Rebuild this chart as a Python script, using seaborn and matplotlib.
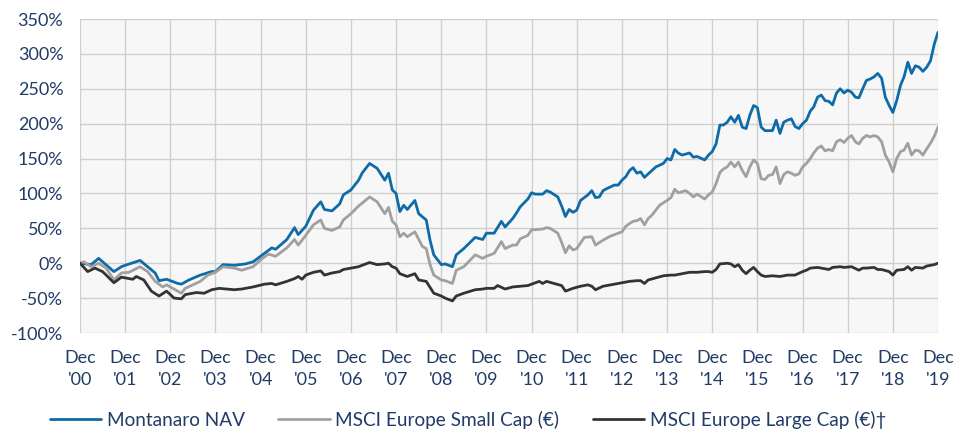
import numpy as np
import pandas as pd
import matplotlib
matplotlib.use("Agg")
import matplotlib.pyplot as plt
import seaborn as sns
from matplotlib.lines import Line2D

# ---------------- data (months since Dec 2000, cumulative return %) ----------------
nav_months = [0, 3, 5, 9, 11, 12, 16, 20, 21, 23, 26, 27, 29, 32, 35, 36, 38, 41, 44, 46,
              48, 51, 52, 55, 57, 58, 60, 62, 64, 65, 67, 69, 70, 72, 74, 75, 77, 79, 81, 82,
              83, 84, 85, 86, 87, 89, 90, 92, 93, 94, 96, 97, 99, 100, 102, 105, 107, 108, 110, 112,
              113, 115, 116, 117, 119, 120, 121, 123, 124, 125, 127, 128, 129, 130, 131, 132, 133, 135, 136, 137,
              138, 139, 140, 142, 143, 144, 145, 146, 147, 148, 149, 150, 151, 153, 155, 156, 157, 158, 159, 160,
              162, 163, 164, 166, 167, 168, 169, 170, 171, 172, 173, 174, 175, 176, 177, 178, 179, 180, 181, 182,
              183, 184, 185, 186, 187, 188, 189, 190, 191, 192, 193, 194, 195, 196, 197, 198, 199, 200, 201, 202,
              203, 204, 205, 206, 207, 208, 209, 210, 211, 212, 213, 214, 215, 216, 217, 218, 219, 220, 221, 222,
              223, 224, 225, 226, 227, 228]
nav_values = [0, -2, 7, -12, -5, -3, 4, -14, -25, -23, -29, -30, -24, -17, -12, -12, -2, -3, -1, 2,
              10, 22, 20, 34, 51, 41, 53, 76, 88, 77, 75, 85, 98, 105, 119, 129, 143, 136, 119, 129,
              105, 100, 74, 83, 77, 90, 71, 62, 33, 12, -2, -1, -5, 12, 21, 37, 34, 43, 43, 60,
              52, 64, 72, 81, 92, 101, 99, 99, 104, 102, 95, 82, 67, 77, 73, 76, 90, 98, 104, 94,
              95, 104, 107, 112, 112, 119, 124, 133, 137, 129, 131, 123, 128, 138, 143, 150, 148, 163, 158, 155,
              158, 152, 153, 148, 155, 160, 171, 198, 198, 202, 210, 202, 212, 195, 193, 212, 226, 223, 195, 190,
              190, 190, 205, 186, 202, 205, 207, 196, 193, 200, 205, 218, 224, 238, 241, 233, 232, 227, 244, 250,
              244, 248, 245, 238, 237, 250, 262, 264, 267, 272, 265, 238, 226, 216, 233, 255, 267, 288, 272, 283,
              281, 275, 281, 290, 314, 331]

small_months = [0, 1, 3, 5, 7, 9, 11, 13, 16, 18, 20, 22, 23, 27, 28, 32, 34, 36, 38, 41,
                43, 46, 48, 50, 52, 55, 57, 58, 60, 62, 64, 65, 67, 69, 70, 72, 74, 75, 77, 79,
                81, 82, 83, 84, 85, 86, 87, 89, 91, 92, 93, 94, 96, 97, 99, 100, 102, 105, 107, 108,
                110, 112, 113, 115, 116, 117, 119, 120, 121, 123, 124, 125, 127, 128, 129, 130, 131, 132, 134, 136,
                137, 139, 141, 143, 144, 145, 146, 147, 148, 149, 150, 151, 152, 154, 156, 157, 158, 159, 161, 162,
                163, 164, 166, 167, 168, 169, 170, 171, 172, 173, 174, 175, 176, 177, 178, 179, 180, 181, 182, 183,
                184, 185, 186, 187, 188, 189, 190, 191, 192, 193, 194, 195, 196, 197, 198, 199, 200, 201, 202, 203,
                204, 205, 206, 207, 208, 209, 210, 211, 212, 213, 214, 215, 216, 217, 218, 219, 220, 221, 222, 223,
                224, 225, 226, 227, 228]
small_values = [0, 2, -5, 0, -7, -24, -14, -13, -5, -12, -26, -34, -31, -43, -36, -26, -17, -13, -5, -7,
                -10, -5, 5, 13, 10, 22, 34, 26, 40, 55, 62, 50, 47, 52, 62, 71, 82, 86, 95, 88,
                71, 80, 60, 55, 38, 43, 38, 45, 24, 21, -2, -17, -24, -25, -29, -10, -5, 12, 7, 10,
                14, 31, 21, 26, 26, 35, 40, 48, 48, 49, 51, 50, 43, 30, 15, 25, 19, 21, 37, 38,
                26, 33, 39, 43, 45, 53, 57, 60, 61, 64, 55, 64, 69, 83, 90, 94, 106, 101, 104, 100,
                95, 99, 92, 98, 102, 114, 130, 135, 138, 145, 138, 145, 133, 124, 138, 148, 143, 121, 120, 126,
                127, 138, 114, 127, 131, 129, 126, 128, 138, 143, 150, 158, 165, 168, 161, 163, 161, 174, 177, 173,
                179, 183, 174, 171, 179, 183, 181, 183, 181, 174, 155, 145, 131, 150, 160, 162, 172, 155, 162, 161,
                155, 164, 172, 182, 195]

large_months = [0, 2, 4, 6, 7, 9, 11, 14, 15, 17, 19, 21, 23, 25, 27, 28, 31, 33, 35, 37,
                41, 43, 46, 49, 51, 52, 55, 57, 58, 59, 60, 62, 64, 65, 67, 69, 70, 72, 74, 75,
                77, 79, 81, 82, 83, 84, 85, 87, 89, 90, 92, 94, 96, 97, 99, 100, 102, 105, 107, 108,
                110, 111, 113, 115, 117, 119, 120, 122, 123, 124, 126, 128, 129, 130, 131, 133, 135, 136, 137, 139,
                141, 143, 144, 146, 148, 149, 150, 151, 153, 155, 157, 158, 160, 162, 164, 166, 167, 168, 169, 170,
                172, 173, 174, 175, 176, 177, 178, 179, 180, 181, 182, 184, 186, 188, 190, 192, 193, 194, 196, 197,
                199, 200, 202, 203, 205, 207, 208, 209, 211, 212, 213, 215, 216, 217, 219, 220, 221, 222, 224, 225,
                227, 228]
large_values = [0, -12, -7, -12, -17, -28, -20, -23, -19, -24, -40, -47, -40, -50, -51, -45, -42, -43, -38, -36,
                -38, -37, -34, -30, -29, -31, -26, -22, -19, -23, -17, -13, -11, -17, -14, -12, -9, -7, -5, -3,
                1, -2, -1, 0, -5, -7, -15, -19, -15, -24, -26, -43, -47, -50, -54, -47, -43, -38, -37, -36,
                -36, -32, -37, -34, -33, -32, -30, -26, -29, -26, -29, -32, -40, -38, -36, -33, -31, -33, -38, -33,
                -31, -29, -28, -26, -25, -25, -29, -24, -21, -18, -17, -17, -15, -13, -13, -12, -12, -13, -9, -1,
                0, -1, -5, -2, -10, -15, -10, -6, -12, -17, -19, -18, -19, -17, -17, -12, -10, -7, -6, -7,
                -9, -6, -5, -6, -5, -10, -7, -7, -6, -9, -9, -12, -17, -10, -9, -5, -10, -6, -7, -4,
                -2, 0]

series_names = ["Montanaro NAV", "MSCI Europe Small Cap (€)", "MSCI Europe Large Cap (€)†"]
tick_years = list(range(2000, 2020))
tick_labels = [f"Dec\n'{y % 100:02d}" for y in tick_years]

# ---------------- build long-form frame ----------------
start = pd.Timestamp("2000-12-01")
frames = []
for name, m, v in zip(series_names,
                      [nav_months, small_months, large_months],
                      [nav_values, small_values, large_values]):
    dates = [start + pd.DateOffset(months=int(k)) for k in m]
    frames.append(pd.DataFrame({"date": dates, "value": v, "series": name}))
df = pd.concat(frames, ignore_index=True)

# ---------------- style ----------------
sns.set_theme(style="white")
plt.rcParams["font.family"] = ["Lato", "DejaVu Sans"]

text_color = "#1F3B66"
grid_color = "#CFCFCF"
colors = {series_names[0]: "#0E6BA8",
          series_names[1]: "#A0A0A0",
          series_names[2]: "#333333"}

fig = plt.figure(figsize=(9.55, 4.32), dpi=100)
ax = fig.add_axes([80 / 955, 1 - 333 / 432, (938 - 80) / 955, (333 - 19) / 432])
ax.set_facecolor("#F7F7F7")

sns.lineplot(data=df, x="date", y="value", hue="series", palette=colors,
             hue_order=series_names, linewidth=2.0, legend=False, ax=ax,
             estimator=None, sort=True)

# axes limits & ticks
ax.set_xlim(start, start + pd.DateOffset(months=228))
ax.set_ylim(-100, 350)
ax.set_yticks(np.arange(-100, 351, 50))
ax.set_yticklabels([f"{int(t)}%" for t in np.arange(-100, 351, 50)])
xt = [pd.Timestamp(f"{y}-12-01") for y in tick_years]
ax.set_xticks(xt)
ax.set_xticklabels(tick_labels, linespacing=1.45)

ax.grid(True, color=grid_color, linewidth=1.0)
ax.set_axisbelow(True)
for s in ax.spines.values():
    s.set_visible(False)

ax.tick_params(axis="y", length=8, width=1.0, color=grid_color, pad=4,
               labelsize=13, labelcolor=text_color)
ax.tick_params(axis="x", length=0, pad=12, labelsize=13, labelcolor=text_color)
ax.set_xlabel("")
ax.set_ylabel("")

# legend
handles = [Line2D([0], [0], color=colors[n], linewidth=2.0) for n in series_names]
leg = fig.legend(handles, series_names, loc="center left",
                 bbox_to_anchor=(50 / 955, 1 - 420 / 432), ncol=3, frameon=False,
                 fontsize=13.7, handlelength=2.7, handletextpad=0.3,
                 columnspacing=1.75, borderpad=0, borderaxespad=0)
for t in leg.get_texts():
    t.set_color(text_color)

fig.savefig("out.png", dpi=100)
